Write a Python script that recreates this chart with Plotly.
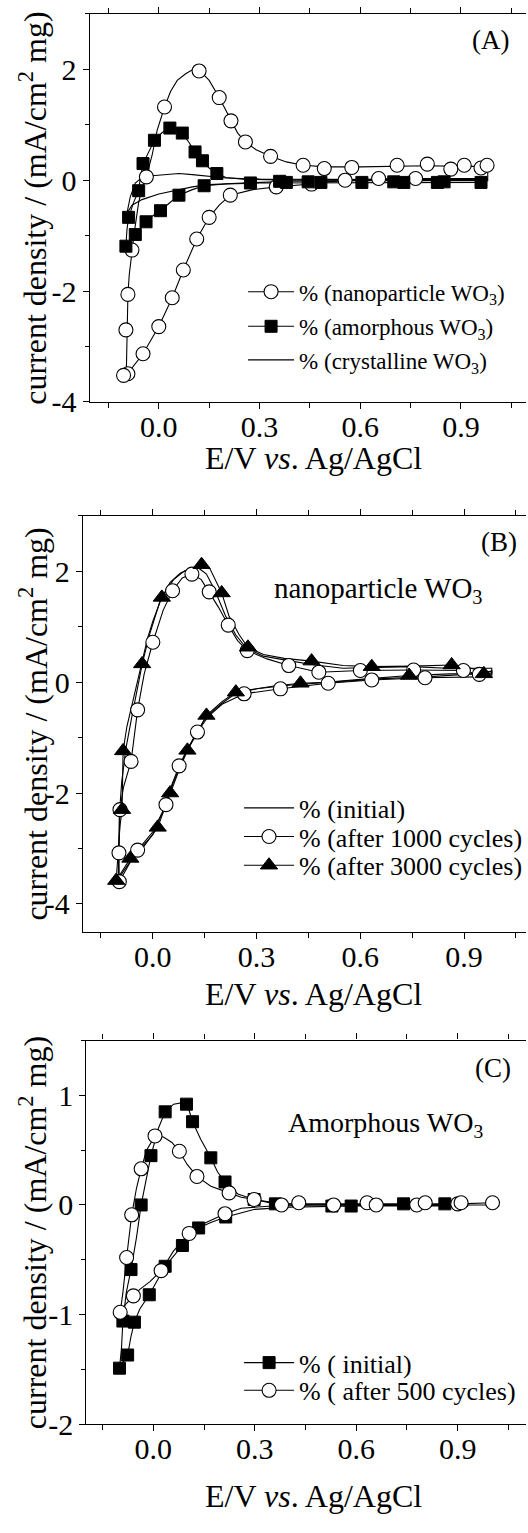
import plotly.graph_objects as go

# ---------------- Panel A data ----------------
A_nano_line_x = [-0.097, -0.096, -0.095, -0.093, -0.092, -0.088, -0.080, -0.072, -0.060, -0.050, -0.037, -0.020, -0.005, 0.017, 0.035, 0.055, 0.080, 0.100, 0.120, 0.150, 0.180, 0.215, 0.235, 0.258, 0.290, 0.333, 0.380, 0.430, 0.500, 0.600, 0.700, 0.800, 0.900, 0.980,
                 0.980, 0.800, 0.700, 0.600, 0.500, 0.455, 0.400, 0.350, 0.280, 0.213, 0.180, 0.150, 0.113, 0.073, 0.040, 0.000, -0.047, -0.075, -0.097]
A_nano_line_y = [-3.52, -3.10, -2.70, -2.30, -2.06, -1.70, -1.26, -0.90, -0.40, -0.15, 0.06, 0.45, 0.90, 1.32, 1.60, 1.80, 1.92, 1.99, 1.99, 1.80, 1.49, 1.07, 0.85, 0.69, 0.55, 0.43, 0.33, 0.27, 0.24, 0.24, 0.25, 0.26, 0.25, 0.25,
                 0.03, 0.03, 0.03, 0.01, -0.03, -0.07, -0.09, -0.12, -0.17, -0.27, -0.45, -0.67, -1.06, -1.62, -2.12, -2.64, -3.13, -3.35, -3.52]
A_nano_mk_x = [0.120, 0.180, 0.215, 0.258, 0.333, 0.430, 0.493, 0.575, 0.710, 0.800, 0.870, 0.910, 0.960, 0.978, 0.017, -0.037, -0.080, -0.092, -0.098, -0.092, -0.105,
               -0.047, 0.000, 0.040, 0.073, 0.113, 0.150, 0.213, 0.350, 0.455, 0.555, 0.655, 0.765]
A_nano_mk_y = [1.97, 1.49, 1.07, 0.69, 0.43, 0.27, 0.21, 0.23, 0.27, 0.29, 0.20, 0.27, 0.22, 0.27, 1.32, 0.06, -1.26, -2.06, -2.70, -3.49, -3.52,
               -3.13, -2.64, -2.12, -1.62, -1.06, -0.67, -0.27, -0.12, -0.07, 0.00, 0.03, 0.03]

A_amor_line_x = [-0.098, -0.095, -0.090, -0.075, -0.060, -0.055, -0.047, -0.030, -0.013, 0.010, 0.033, 0.050, 0.070, 0.090, 0.108, 0.130, 0.150, 0.173, 0.200, 0.250, 0.300, 0.400, 0.600, 0.800, 0.970,
                 0.970, 0.800, 0.600, 0.450, 0.300, 0.200, 0.135, 0.100, 0.060, 0.030, 0.005, -0.020, -0.038, -0.055, -0.070, -0.085, -0.098]
A_amor_line_y = [-1.19, -0.90, -0.67, -0.40, -0.19, 0.05, 0.30, 0.52, 0.72, 0.86, 0.94, 0.93, 0.85, 0.68, 0.51, 0.35, 0.22, 0.12, 0.05, 0.02, 0.01, 0.00, 0.00, 0.00, 0.00,
                 -0.04, -0.04, -0.04, -0.04, -0.05, -0.07, -0.10, -0.17, -0.27, -0.42, -0.55, -0.65, -0.75, -0.87, -0.98, -1.08, -1.19]
A_amor_mk_x = [-0.098, -0.090, -0.070, -0.060, -0.047, -0.013, 0.033, 0.070, 0.108, 0.130, 0.173, 0.273, 0.360, 0.380, 0.445, 0.483, 0.605, 0.700, 0.730, 0.830, 0.850, 0.960,
               -0.038, 0.005, 0.060, 0.135]
A_amor_mk_y = [-1.19, -0.67, -0.98, -0.19, 0.30, 0.72, 0.94, 0.85, 0.51, 0.35, 0.12, -0.05, -0.02, -0.04, -0.03, -0.04, -0.04, -0.03, -0.04, -0.04, -0.03, -0.04,
               -0.75, -0.55, -0.27, -0.10]

A_crys_line_x = [-0.095, -0.085, -0.070, -0.050, -0.020, 0.020, 0.060, 0.100, 0.150, 0.200, 0.300, 0.500, 0.700, 0.980,
                 0.980, 0.600, 0.400, 0.250, 0.150, 0.100, 0.050, 0.000, -0.050, -0.080, -0.095]
A_crys_line_y = [-0.60, -0.30, -0.05, 0.05, 0.08, 0.10, 0.12, 0.10, 0.07, 0.04, 0.02, 0.01, 0.01, 0.01,
                 -0.01, -0.01, -0.02, -0.05, -0.08, -0.12, -0.18, -0.25, -0.35, -0.45, -0.60]

# ---------------- Panel B data ----------------
B_init_line_x = [-0.100, -0.097, -0.090, -0.078, -0.060, -0.045, -0.030, -0.010, 0.020, 0.050, 0.080, 0.110, 0.130, 0.155, 0.180, 0.210, 0.240, 0.270, 0.320, 0.400, 0.470, 0.550, 0.650, 0.750, 0.850, 0.980,
                 0.980, 0.800, 0.650, 0.500, 0.400, 0.300, 0.240, 0.200, 0.155, 0.120, 0.090, 0.060, 0.035, 0.000, -0.050, -0.100]
B_init_line_y = [-3.55, -2.40, -1.80, -1.20, -0.60, -0.10, 0.35, 0.85, 1.45, 1.80, 1.97, 2.05, 2.07, 1.95, 1.65, 1.20, 0.85, 0.62, 0.47, 0.38, 0.31, 0.25, 0.27, 0.28, 0.25, 0.25,
                 0.17, 0.10, 0.06, 0.00, -0.05, -0.12, -0.20, -0.38, -0.62, -0.98, -1.35, -1.80, -2.25, -2.75, -3.10, -3.55]

B_1000_line_x = [-0.097, -0.098, -0.095, -0.085, -0.063, -0.055, -0.044, -0.025, 0.000, 0.030, 0.057, 0.085, 0.113, 0.140, 0.163, 0.190, 0.218, 0.245, 0.273, 0.330, 0.393, 0.480, 0.600, 0.754, 0.898, 0.944, 0.980,
                 0.980, 0.787, 0.633, 0.507, 0.369, 0.264, 0.200, 0.160, 0.129, 0.100, 0.076, 0.055, 0.038, 0.000, -0.044, -0.070, -0.097]
B_1000_line_y = [-3.60, -3.08, -2.30, -1.90, -1.43, -1.00, -0.50, 0.15, 0.72, 1.30, 1.65, 1.88, 1.95, 1.85, 1.63, 1.35, 1.03, 0.75, 0.57, 0.42, 0.30, 0.18, 0.21, 0.22, 0.21, 0.14, 0.20,
                 0.10, 0.08, 0.04, -0.02, -0.12, -0.21, -0.40, -0.62, -0.90, -1.20, -1.51, -1.85, -2.21, -2.70, -3.03, -3.30, -3.60]
B_1000_mk_x = [-0.097, -0.098, -0.095, -0.063, -0.044, 0.000, 0.057, 0.113, 0.163, 0.218, 0.273, 0.393, 0.480, 0.600, 0.754, 0.898, 0.944,
               0.787, 0.633, 0.507, 0.369, 0.264, 0.129, 0.076, 0.038, -0.044]
B_1000_mk_y = [-3.60, -3.08, -2.30, -1.43, -0.50, 0.72, 1.65, 1.95, 1.63, 1.03, 0.57, 0.30, 0.18, 0.21, 0.22, 0.21, 0.14,
               0.08, 0.04, -0.02, -0.12, -0.21, -0.90, -1.51, -2.21, -3.03]

B_3000_line_x = [-0.106, -0.100, -0.095, -0.089, -0.087, -0.086, -0.075, -0.060, -0.045, -0.031, -0.015, 0.000, 0.026, 0.060, 0.090, 0.120, 0.141, 0.165, 0.199, 0.220, 0.250, 0.275, 0.320, 0.380, 0.459, 0.550, 0.633, 0.750, 0.864, 0.920, 0.957, 0.980,
                 0.980, 0.860, 0.741, 0.600, 0.500, 0.427, 0.350, 0.300, 0.240, 0.200, 0.155, 0.130, 0.100, 0.075, 0.050, 0.030, 0.014, -0.030, -0.065, -0.106]
B_3000_line_y = [-3.58, -3.00, -2.60, -2.30, -1.80, -1.24, -0.80, -0.40, -0.05, 0.33, 0.80, 1.10, 1.53, 1.85, 2.00, 2.08, 2.12, 2.05, 1.61, 1.20, 0.85, 0.63, 0.50, 0.43, 0.38, 0.30, 0.28, 0.29, 0.31, 0.25, 0.18, 0.20,
                 0.15, 0.15, 0.12, 0.05, 0.00, -0.02, -0.07, -0.12, -0.18, -0.35, -0.60, -0.90, -1.23, -1.60, -2.00, -2.35, -2.62, -3.00, -3.18, -3.58]
B_3000_mk_x = [-0.106, -0.065, -0.089, -0.086, -0.031, 0.026, 0.141, 0.199, 0.275, 0.459, 0.633, 0.864, 0.957,
               0.741, 0.427, 0.240, 0.155, 0.100, 0.050, 0.014]
B_3000_mk_y = [-3.58, -3.18, -2.30, -1.24, 0.33, 1.53, 2.12, 1.61, 0.63, 0.38, 0.28, 0.31, 0.15,
               0.12, -0.02, -0.18, -0.60, -1.23, -2.00, -2.62]

# ---------------- Panel C data ----------------
C_init_line_x = [-0.100, -0.094, -0.090, -0.080, -0.066, -0.050, -0.036, -0.020, -0.007, 0.015, 0.035, 0.060, 0.098, 0.116, 0.140, 0.170, 0.190, 0.212, 0.250, 0.298, 0.361, 0.500, 0.700, 0.930,
                 0.930, 0.600, 0.400, 0.300, 0.214, 0.170, 0.134, 0.086, 0.035, 0.010, -0.012, -0.040, -0.056, -0.066, -0.076, -0.100]
C_init_line_y = [-1.49, -1.30, -1.06, -0.80, -0.59, -0.30, 0.00, 0.25, 0.45, 0.70, 0.85, 0.92, 0.94, 0.76, 0.60, 0.43, 0.30, 0.21, 0.10, 0.05, 0.01, 0.00, 0.00, 0.00,
                 -0.01, -0.01, -0.02, -0.04, -0.11, -0.16, -0.21, -0.37, -0.56, -0.70, -0.82, -0.95, -1.07, -1.20, -1.37, -1.49]
C_init_mk_x = [-0.100, -0.076, -0.090, -0.056, -0.066, -0.036, -0.007, 0.035, 0.098, 0.116, 0.170, 0.212, 0.298, 0.361, 0.528, 0.585, 0.740, 0.862,
               -0.012, 0.035, 0.086, 0.134, 0.214]
C_init_mk_y = [-1.49, -1.37, -1.06, -1.07, -0.59, 0.00, 0.45, 0.85, 0.92, 0.76, 0.43, 0.21, 0.05, 0.01, -0.01, -0.01, 0.01, 0.01,
               -0.82, -0.56, -0.37, -0.21, -0.11]

C_500_line_x = [-0.098, -0.090, -0.079, -0.070, -0.064, -0.050, -0.036, -0.020, 0.005, 0.030, 0.055, 0.077, 0.100, 0.129, 0.170, 0.224, 0.260, 0.298, 0.379, 0.500, 0.700, 0.900, 1.003,
                1.003, 0.700, 0.500, 0.350, 0.260, 0.212, 0.150, 0.106, 0.060, 0.023, -0.010, -0.040, -0.059, -0.080, -0.098]
C_500_line_y = [-0.98, -0.80, -0.48, -0.25, -0.09, 0.15, 0.33, 0.50, 0.63, 0.62, 0.57, 0.49, 0.37, 0.26, 0.17, 0.11, 0.07, 0.05, 0.01, 0.01, 0.01, 0.01, 0.02,
                0.00, 0.00, 0.00, -0.01, -0.03, -0.08, -0.17, -0.26, -0.42, -0.60, -0.70, -0.77, -0.83, -0.90, -0.98]
C_500_mk_x = [-0.098, -0.059, -0.079, -0.064, -0.036, 0.005, 0.077, 0.129, 0.224, 0.298, 0.379, 0.430, 0.533, 0.632, 0.659, 0.779, 0.804, 0.900, 0.910, 1.003,
              0.023, 0.106, 0.212]
C_500_mk_y = [-0.98, -0.83, -0.48, -0.09, 0.33, 0.63, 0.49, 0.26, 0.11, 0.05, 0.00, 0.02, 0.00, 0.02, 0.00, 0.00, 0.02, 0.01, 0.02, 0.02,
              -0.60, -0.26, -0.08]

# ---------------- ticks / labels ----------------
x_tickvals = [0.0, 0.3, 0.6, 0.9]
x_ticktext = ["0.0", "0.3", "0.6", "0.9"]
yA_tickvals = [-4, -2, 0, 2]
yA_ticktext = ["-4", "-2", "0", "2"]
yB_tickvals = [-4, -2, 0, 2]
yB_ticktext = ["-4", "-2", "0", "2"]
yC_tickvals = [-2, -1, 0, 1]
yC_ticktext = ["-2", "-1", "0", "1"]

x_title = "E/V <i>vs</i>. Ag/AgCl"
y_title = "current density / (mA/cm<sup>2</sup> mg)"

legA = ["% (nanoparticle WO<sub>3</sub>)", "% (amorphous WO<sub>3</sub>)", "% (crystalline WO<sub>3</sub>)"]
legB = ["% (initial)", "% (after 1000 cycles)", "% (after 3000 cycles)"]
legC = ["% ( initial)", "% ( after 500 cycles)"]

# ---------------- figure ----------------
W, H = 528, 1533
FONT = "Liberation Serif"


def sep(vals):
    out = []
    for v in vals:
        out += [v, None]
    return out


def px_x(p):
    return p / W


def px_y(p):
    return 1 - p / H


fig = go.Figure()

LINE = dict(color="black", width=1.1)
open_circle = dict(symbol="circle", size=14, color="white", line=dict(color="black", width=1.1))
filled_square = dict(symbol="square", size=12, color="black", line=dict(color="black", width=1))
filled_tri = dict(symbol="triangle-up", size=15, color="black", line=dict(color="black", width=1))


def line_trace(x, y, xa, ya, name=None, legend=None, showlegend=False):
    return go.Scatter(x=x, y=y, mode="lines", line=LINE, xaxis=xa, yaxis=ya,
                      showlegend=showlegend, name=name, legend=legend, hoverinfo="skip")


def marker_trace(x, y, xa, ya, marker, name, legend):
    return go.Scatter(x=sep(x), y=sep(y), mode="lines+markers", line=LINE, marker=marker,
                      connectgaps=False, xaxis=xa, yaxis=ya, name=name, legend=legend,
                      showlegend=True, hoverinfo="skip")


# Panel A
fig.add_trace(line_trace(A_crys_line_x, A_crys_line_y, "x", "y", name=legA[2], legend="legend3", showlegend=True))
fig.add_trace(line_trace(A_amor_line_x, A_amor_line_y, "x", "y"))
fig.add_trace(line_trace(A_nano_line_x, A_nano_line_y, "x", "y"))
fig.add_trace(marker_trace(A_nano_mk_x, A_nano_mk_y, "x", "y", open_circle, legA[0], "legend"))
fig.add_trace(marker_trace(A_amor_mk_x, A_amor_mk_y, "x", "y", filled_square, legA[1], "legend2"))

# Panel B
fig.add_trace(line_trace(B_init_line_x, B_init_line_y, "x2", "y2", name=legB[0], legend="legend4", showlegend=True))
fig.add_trace(line_trace(B_1000_line_x, B_1000_line_y, "x2", "y2"))
fig.add_trace(line_trace(B_3000_line_x, B_3000_line_y, "x2", "y2"))
fig.add_trace(marker_trace(B_1000_mk_x, B_1000_mk_y, "x2", "y2", open_circle, legB[1], "legend5"))
fig.add_trace(marker_trace(B_3000_mk_x, B_3000_mk_y, "x2", "y2", filled_tri, legB[2], "legend6"))

# Panel C
fig.add_trace(line_trace(C_init_line_x, C_init_line_y, "x3", "y3"))
fig.add_trace(line_trace(C_500_line_x, C_500_line_y, "x3", "y3"))
fig.add_trace(marker_trace(C_init_mk_x, C_init_mk_y, "x3", "y3", filled_square, legC[0], "legend7"))
fig.add_trace(marker_trace(C_500_mk_x, C_500_mk_y, "x3", "y3", open_circle, legC[1], "legend8"))

tickfont = dict(family=FONT, size=30, color="black")


def xaxis(domain_left_px, rng, anchor):
    return dict(domain=[px_x(domain_left_px), 1], range=rng, anchor=anchor,
                tickmode="array", tickvals=x_tickvals, ticktext=x_ticktext,
                ticks="outside", ticklen=6, tickwidth=1.2, tickcolor="black",
                ticklabelstandoff=-8,
                minor=dict(tickmode="linear", tick0=0, dtick=0.15, ticks="outside", ticklen=5,
                           tickwidth=1.2, tickcolor="black"),
                showline=True, linecolor="black", linewidth=1.3, mirror="allticks",
                showgrid=False, zeroline=False, tickfont=tickfont)


def yaxis(top_px, bot_px, rng, tv, tt, minor_dtick, anchor):
    return dict(domain=[px_y(bot_px), px_y(top_px)], range=rng, anchor=anchor,
                tickmode="array", tickvals=tv, ticktext=tt,
                ticks="outside", ticklen=6, tickwidth=1.2, tickcolor="black",
                minor=dict(tickmode="linear", tick0=0, dtick=minor_dtick, ticks="outside", ticklen=4,
                           tickwidth=1.2, tickcolor="black"),
                showline=True, linecolor="black", linewidth=1.3, mirror=False,
                showgrid=False, zeroline=False, tickfont=tickfont)


A_top, A_bot, A_left = 14, 406.5, 90
B_top, B_bot, B_left = 521.7, 942, 83.3
C_top, C_bot, C_left = 1052.3, 1440, 86.7


def leg(xpx, ypx, size, iw):
    return dict(x=px_x(xpx), y=px_y(ypx), xanchor="left", yanchor="middle", bgcolor="rgba(0,0,0,0)",
                font=dict(family=FONT, size=size, color="black"), itemwidth=iw)


fig.update_layout(
    width=W, height=H, margin=dict(l=0, r=0, t=0, b=0),
    paper_bgcolor="white", plot_bgcolor="white",
    font=dict(family=FONT, color="black"),
    xaxis=xaxis(A_left, [-0.206, 1.094], "y"),
    yaxis=yaxis(A_top, A_bot, [-4, 3], yA_tickvals, yA_ticktext, 1, "x"),
    xaxis2=xaxis(B_left, [-0.202, 1.079], "y2"),
    yaxis2=yaxis(B_top, B_bot, [-4.5, 3], yB_tickvals, yB_ticktext, 1, "x2"),
    xaxis3=xaxis(C_left, [-0.198, 1.102], "y3"),
    yaxis3=yaxis(C_top, C_bot, [-2, 1.5], yC_tickvals, yC_ticktext, 0.5, "x3"),
    legend=leg(244, 295, 23, 46),
    legend2=leg(244, 330, 23, 46),
    legend3=leg(244, 364, 23, 46),
    legend4=leg(240, 817, 26, 50),
    legend5=leg(240, 846, 26, 50),
    legend6=leg(240, 875, 26, 50),
    legend7=leg(240, 1378, 26, 50),
    legend8=leg(240, 1406, 26, 50),
)

ann = []
# y titles
for top, bot in [(A_top, A_bot), (B_top, B_bot), (C_top, C_bot)]:
    ann.append(dict(text=y_title, x=px_x(33), y=px_y((top + bot) / 2), xref="paper", yref="paper",
                    textangle=-90, showarrow=False, xanchor="center", yanchor="middle",
                    font=dict(family=FONT, size=32, color="black")))
# x titles
for xc, yc in [(315, 463), (315, 1005), (315, 1513)]:
    ann.append(dict(text=x_title, x=px_x(xc), y=px_y(yc), xref="paper", yref="paper",
                    showarrow=False, xanchor="center", yanchor="middle",
                    font=dict(family=FONT, size=32, color="black")))
# panel labels
for txt, xc, yc in [("(A)", 492, 40), ("(B)", 501, 548), ("(C)", 495, 1080)]:
    ann.append(dict(text=txt, x=px_x(xc), y=px_y(yc), xref="paper", yref="paper",
                    showarrow=False, xanchor="center", yanchor="middle",
                    font=dict(family=FONT, size=27, color="black")))
ann.append(dict(text="nanoparticle WO<sub>3</sub>", x=px_x(380), y=px_y(597), xref="paper", yref="paper",
                showarrow=False, xanchor="center", yanchor="middle",
                font=dict(family=FONT, size=29, color="black")))
ann.append(dict(text="Amorphous WO<sub>3</sub>", x=px_x(387), y=px_y(1137), xref="paper", yref="paper",
                showarrow=False, xanchor="center", yanchor="middle",
                font=dict(family=FONT, size=28, color="black")))
fig.update_layout(annotations=ann)

fig.write_html("out.html")
